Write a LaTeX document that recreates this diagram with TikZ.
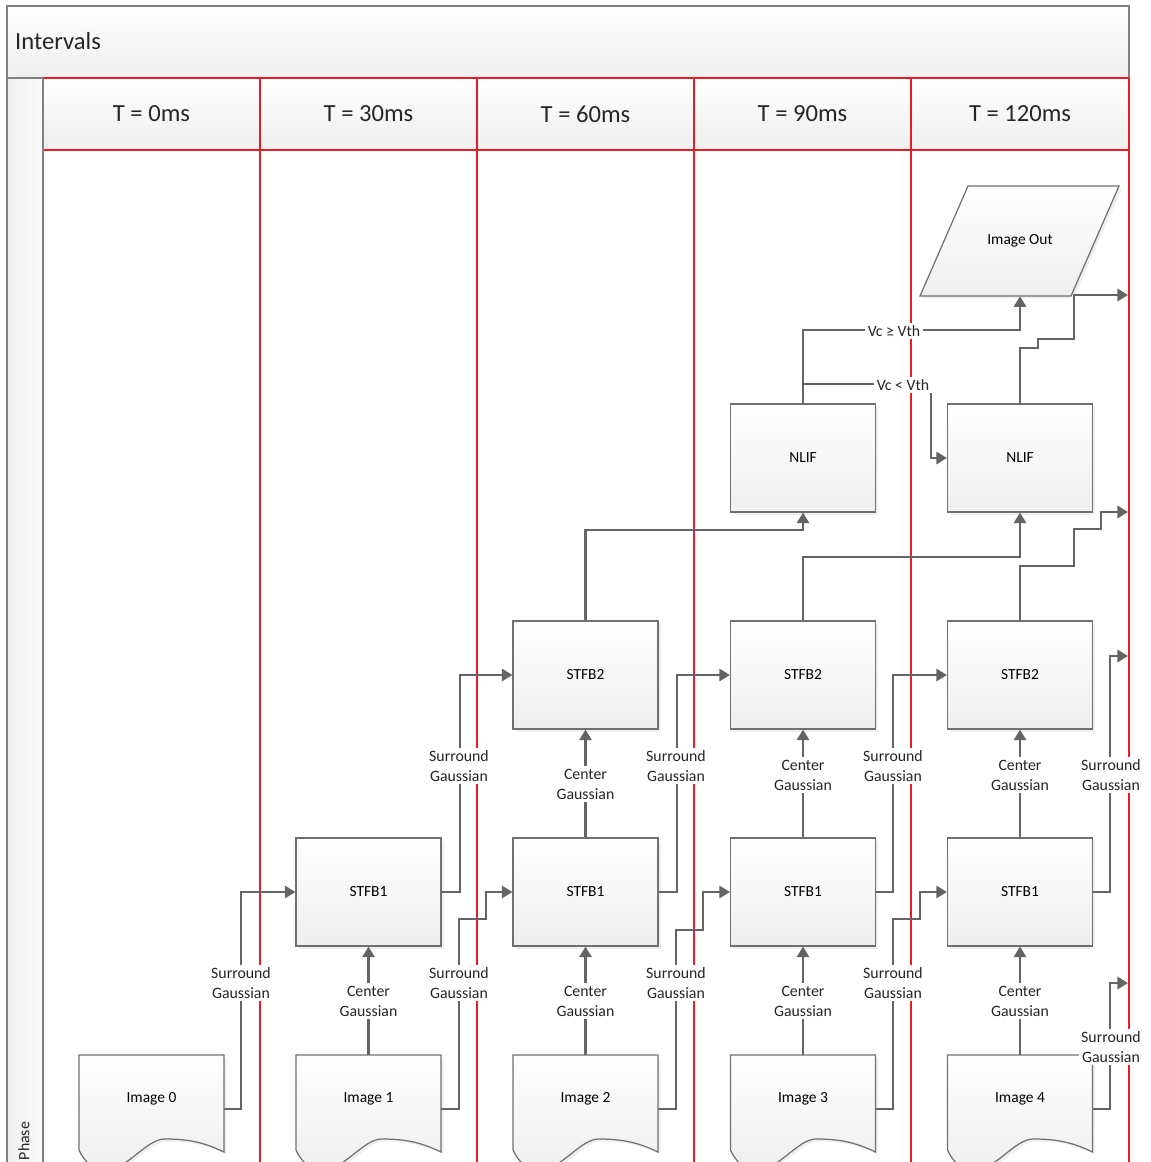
\documentclass[tikz,border=0pt]{standalone}
\usepackage{fontspec}
\setmainfont{Carlito}
\usetikzlibrary{arrows.meta,shadows}
\definecolor{lanered}{RGB}{232,28,36}
\definecolor{conngray}{RGB}{100,100,100}
\definecolor{boxgray}{RGB}{112,112,112}
\definecolor{framegray}{RGB}{128,128,128}
\begin{document}
\begin{tikzpicture}[x=0.02cm,y=-0.02cm,
  conn/.style={draw=conngray, line width=1.2pt, -{Triangle[length=6pt,width=7pt]}},
  plainline/.style={draw=conngray, line width=1.2pt},
  shade/.style={top color=white, bottom color=gray!13},
  boxnode/.style={draw=boxgray, line width=0.7pt, shade, minimum width=2.9cm, minimum height=2.16cm,
    font=\fontsize{8.8}{10.5}\selectfont, drop shadow={shadow xshift=1.5pt, shadow yshift=-1.5pt, opacity=0.12}},
  docnode/.style={minimum width=2.9cm, minimum height=2.16cm, inner sep=0pt},
  doctext/.style={font=\fontsize{8.8}{10.5}\selectfont},
  docline/.style={draw=boxgray, line width=0.7pt, shade, drop shadow={shadow xshift=1.5pt, shadow yshift=-1.5pt, opacity=0.12}},
  lbl/.style={fill=white, inner sep=1.5pt, align=center, font=\fontsize{9}{11.3}\selectfont, text=black!85},
  head/.style={font=\fontsize{14}{16}\selectfont, text=black!85},
  redline/.style={draw=lanered, line width=0.8pt}
]
\useasboundingbox (0,0) rectangle (1150,1162);
\clip (0,0) rectangle (1150,1162);
\fill[white] (0,0) rectangle (1150,1162);

% title bar
\draw[draw=framegray, line width=0.8pt, shade] (7,6) rectangle (1129,78);
\node[head, anchor=west] (title) at (9,41) {Intervals};
% phase column
\draw[draw=framegray, line width=0.8pt, left color=gray!12, right color=gray!3] (7,78) rectangle (43,1170);
\node[rotate=90, font=\fontsize{9}{11}\selectfont, text=black!85] (phase) at (24,1141) {Phase};

% column headers
\foreach \xa/\xb/\t [count=\i] in {43/260/{T = 0ms},260/477/{T = 30ms},477/694/{T = 60ms},694/911/{T = 90ms},911/1129/{T = 120ms}}{
  \fill[shade] (\xa,78) rectangle (\xb,150);
  \node[head] (hd\i) at ({(\xa+\xb)/2},114) {\t};
}
\draw[redline] (43,78) -- (1129,78);
\draw[redline] (43,150) -- (1129,150);
\foreach \x in {260,477,694,911,1129}{
  \draw[redline] (\x,78) -- (\x,1170);
}
\draw[draw=framegray, line width=0.8pt] (43,78) -- (43,1170);

% nodes (invisible anchors first)
\node[docnode] (img0) at (151.5,1109) {};
\node[docnode] (img1) at (368.5,1109) {};
\node[docnode] (img2) at (585.5,1109) {};
\node[docnode] (img3) at (803,1109) {};
\node[docnode] (img4) at (1020,1109) {};
\node[minimum width=2.4cm, minimum height=2.2cm, inner sep=0pt] (imgout) at (1020,241) {};
\coordinate (e1) at (1128,295);
\coordinate (e2) at (1128,512);
\coordinate (e3) at (1128,656);
\coordinate (e4) at (1128,983);

\node[boxnode] (s1a) at (368.5,892) {STFB1};
\node[boxnode] (s1b) at (585.5,892) {STFB1};
\node[boxnode] (s1c) at (803,892) {STFB1};
\node[boxnode] (s1d) at (1020,892) {STFB1};
\node[boxnode] (s2b) at (585.5,675) {STFB2};
\node[boxnode] (s2c) at (803,675) {STFB2};
\node[boxnode] (s2d) at (1020,675) {STFB2};
\node[boxnode] (n3) at (803,458) {NLIF};
\node[boxnode] (n4) at (1020,458) {NLIF};

% connectors
\draw[conn] (img0.east) -- ++(17,0) |- (s1a.west);
\draw[conn] (img1.north) -- (s1a.south);
\draw[conn] (img1.east) -- ++(18,0) -- ++(0,-190) -- ++(27,0) |- (s1b.west);
\draw[conn] (s1a.east) -- ++(18,0) |- (s2b.west);
\draw[conn] (s1b.north) -- (s2b.south);
\draw[conn] (img2.north) -- (s1b.south);
\draw[conn] (img2.east) -- ++(18,0) -- ++(0,-179) -- ++(27,0) |- (s1c.west);
\draw[conn] (s1b.east) -- ++(18,0) |- (s2c.west);
\draw[conn] (s2b.north) -- ++(0,-90) -| (n3.south);
\draw[conn] (img3.north) -- (s1c.south);
\draw[conn] (img3.east) -- ++(17,0) -- ++(0,-190) -- ++(27,0) |- (s1d.west);
\draw[conn] (s1c.east) -- ++(17,0) |- (s2d.west);
\draw[conn] (s1c.north) -- (s2c.south);
\draw[conn] (s2c.north) -- ++(0,-63) -| (n4.south);
\draw[conn] (n3.north) -- ++(0,-73) -| (imgout.south);
\draw[conn] (n3.north) ++(0,-19) -- ++(128,0) |- (n4.west);
\draw[conn] (n4.north) -- ++(0,-55) -- ++(18,0) -- ++(0,-9) -- ++(36,0) |- (e1);
\draw[conn] (s2d.north) -- ++(0,-54) -- ++(54,0) -- ++(0,-37) -- ++(27,0) |- (e2);
\draw[conn] (s1d.east) -- ++(17,0) |- (e3);
\draw[conn] (img4.east) -- ++(17,0) |- (e4);
\draw[conn] (img4.north) -- (s1d.south);
\draw[conn] (s1d.north) -- (s2d.south);

% document shapes
\foreach \cx [count=\i from 0] in {151.5,368.5,585.5,803,1020}{
  \path[docline] (\cx-72.5,1055) -- (\cx+72.5,1055) -- (\cx+72.5,1152)
    .. controls (\cx+50,1141) and (\cx+33,1139) .. (\cx+13,1139)
    .. controls (\cx-5,1139) and (\cx-25,1170) .. (\cx-45,1170)
    .. controls (\cx-60,1170) and (\cx-68,1160) .. (\cx-72.5,1150) -- cycle;
  \node[doctext] (imgt\i) at (\cx,1099) {Image \i};
}
% image out parallelogram
\path[docline] (968,186) -- (1119,186) -- (1071,296) -- (920,296) -- cycle;
\node[doctext] (imgoutt) at (1020,241) {Image Out};

% labels
\foreach \x/\y [count=\k] in {241/983,459/983,676/983,893/983,1111/1047,459/766,676/766,893/766,1111/775}{
  \node[lbl] (sg\k) at (\x,\y) {Surround\\Gaussian};
}
\foreach \x/\y [count=\k] in {368.5/1001,585.5/1001,803/1001,1020/1001,585.5/784,803/775,1020/775}{
  \node[lbl] (cg\k) at (\x,\y) {Center\\Gaussian};
}
\node[lbl] (vge) at (894,331) {Vc ≥ Vth};
\node[lbl] (vlt) at (903,385) {Vc < Vth};
\end{tikzpicture}
\end{document}
